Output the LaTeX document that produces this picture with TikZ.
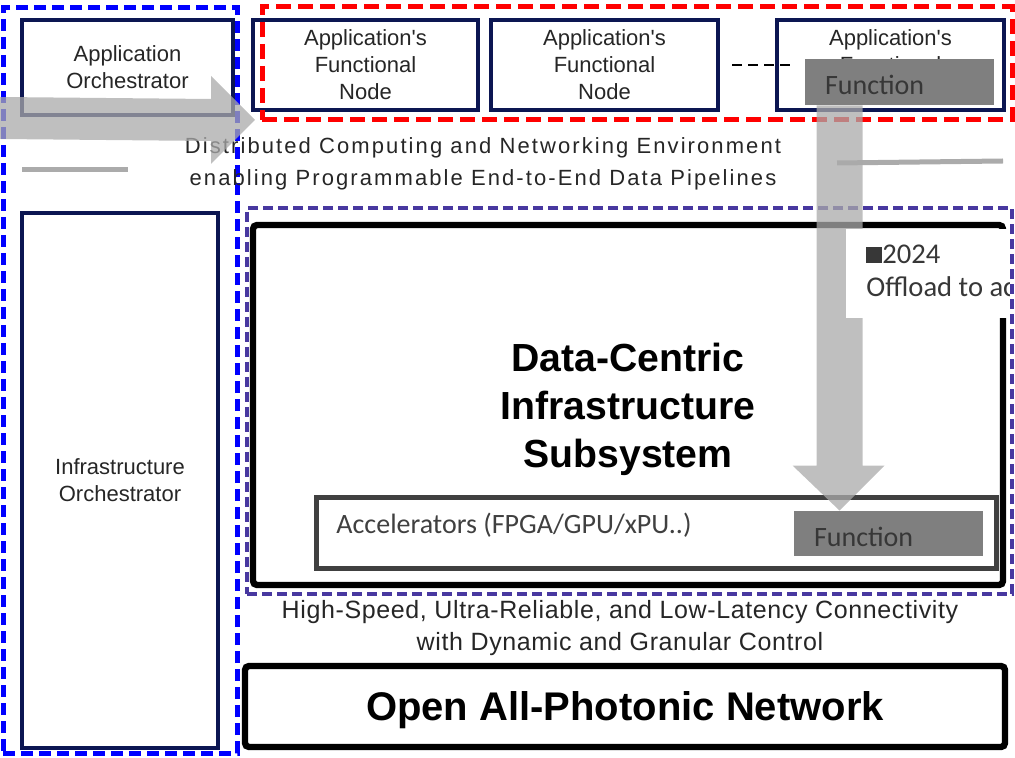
\documentclass[tikz,border=0pt]{standalone}
\usepackage{fontspec}
\setmainfont{Liberation Sans}
\newfontfamily\arialish{Liberation Sans}
\newfontfamily\gillish{Carlito}
\usetikzlibrary{positioning, fit, calc}

\definecolor{navybox}{RGB}{12,22,82}
\definecolor{orchblue}{RGB}{0,0,255}
\definecolor{appred}{RGB}{255,0,0}
\definecolor{infrapurple}{RGB}{72,56,160}
\definecolor{funcgrey}{RGB}{127,127,127}
\definecolor{functext}{RGB}{55,55,55}
\definecolor{accelgrey}{RGB}{64,64,64}
\definecolor{flowgrey}{RGB}{170,170,170}

\tikzset{
  orchbox/.style={draw=navybox, line width=2pt, fill=white, inner sep=0pt, align=center,
    text=black!85, font=\arialish\fontsize{11}{13.5}\selectfont},
  appnode/.style={orchbox, minimum width=113.5pt, minimum height=45pt},
  framebox/.style={draw, line width=2.5pt, inner sep=0pt},
  layerbox/.style={draw=black, line width=3.2pt, rounded corners=2pt, inner sep=0pt},
  funcbox/.style={fill=funcgrey, inner sep=0pt, text=functext, font=\gillish\fontsize{14}{16}\selectfont},
  flowarrow/.style={fill=flowgrey, fill opacity=0.75},
  fadeline/.style={draw=black!33, line width=2.5pt},
  midtext/.style={align=center, inner sep=0pt, text=black!85}
}

\begin{document}
\begin{tikzpicture}[x=0.5pt, y=-0.5pt]
  \useasboundingbox (0,0) rectangle (1015,758);
  \clip (0,0) rectangle (1015,758);

  % orchestrators
  \node[orchbox, minimum width=105.5pt, minimum height=47.5pt] (apporch) at (127.5,67.5) {Application\\Orchestrator};
  \node[orchbox, minimum width=98pt, minimum height=267.5pt] (infraorch) at (120,480.5) {Infrastructure\\Orchestrator};
  \node[framebox, draw=orchblue, dash pattern=on 6pt off 3pt, fit={(3,8)(237,753)}] (orchgroup) {};

  % application's functional nodes
  \node[appnode, minimum width=112.5pt] (fn1) at (365.5,65) {Application's\\Functional\\Node};
  \node[appnode, right=4.5pt of fn1] (fn2) {Application's\\Functional\\Node};
  \node[appnode, right=27.5pt of fn2] (fn3) {Application's\\Functional\\Node};
  \draw[line width=1pt, dash pattern=on 5pt off 3pt] ([xshift=6pt]fn2.east) -- ([xshift=7.5pt]fn3.west);
  \node[framebox, draw=appred, dash pattern=on 7.5pt off 3.5pt, fit={(262,7)(1012,120)}] (appgroup) {};

  \node[midtext, font=\fontsize{11}{16}\selectfont\addfontfeatures{LetterSpace=9.5}] (envtext) at (483,164)
    {Distributed Computing and Networking Environment\\enabling Programmable End-to-End Data Pipelines};
  \draw[fadeline] (22,170) -- (128,170);
  \draw[fadeline] (837,163) -- (1003,161);

  % infrastructure layers
  \node[layerbox, fit={(253,225)(1003,585)}] (dcis) {};
  \node[midtext, text=black, font=\bfseries\fontsize{19.6}{24}\selectfont] (dcistext) at (628,409)
    {Data-Centric\\Infrastructure\\Subsystem};
  \node[draw=accelgrey, line width=2.5pt, inner sep=0pt, fit={(316,497)(996,568)}] (accel) {};
  \node[anchor=west, inner sep=0pt, text=accelgrey, font=\gillish\fontsize{14}{16}\selectfont] (acceltext) at (336,525)
    {Accelerators (FPGA/GPU/xPU..)};
  \node[framebox, draw=infrapurple, line width=2pt, dash pattern=on 5pt off 2.5pt, fit={(247,208)(1012,594)}] (infragroup) {};

  \node[midtext, font=\fontsize{12.5}{16}\selectfont\addfontfeatures{LetterSpace=2.5}] (linktext) at (620,628)
    {High-Speed, Ultra-Reliable, and Low-Latency Connectivity\\with Dynamic and Granular Control};
  \node[layerbox, minimum width=380pt, minimum height=40.5pt, text depth=0pt,
    font=\bfseries\fontsize{20}{24}\selectfont] (photonic) at (625,706.5) {Open All-Photonic Network};

  % offloaded function
  \node[funcbox, fit={(794,511)(983,556)}] (fnbot) {};
  \node[funcbox, anchor=west] (fnbottext) at ([xshift=10pt,yshift=-1.5pt]fnbot.west) {Function};
  \node[funcbox, fit={(805,59)(994,105)}] (fntop) {};
  \node[funcbox, anchor=west] (fntoptext) at ([xshift=10pt,yshift=-1.5pt]fntop.west) {Function};

  % grey flow arrows
  \coordinate (htip) at ($(fn1.south west)+(4,8)$);
  \fill[flowarrow] (0,97) -- ($(htip)+(-44,-21)$) -- ($(htip)+(-44,-44)$) -- (htip)
    -- ($(htip)+(-44,44)$) -- ($(htip)+(-44,21)$) -- (0,139) -- cycle;
  \coordinate (vtip) at ($(fnbot.north west)+(46,0)$);
  \coordinate (vtop) at (vtip |- fntop.south);
  \fill[flowarrow] ($(vtop)+(-23,0)$) -- ($(vtip)+(-23,-45)$) -- ($(vtip)+(-47,-45)$) -- (vtip)
    -- ($(vtip)+(45,-45)$) -- ($(vtip)+(23,-45)$) -- ($(vtop)+(23,0)$) -- cycle;

  % note
  \node[fill=white, inner sep=0pt, fit={(846,229)(1009,318)}] (notebox) {};
  \begin{scope}
    \clip (notebox.south west) rectangle (notebox.north east);
    \node[anchor=north west, inner sep=0pt, align=left, text=functext,
      font=\gillish\fontsize{14.3}{16.5}\selectfont] (notetext) at (866,245)
      {\scalebox{0.8}{\raisebox{0.5pt}{\rule{10pt}{10pt}}}2024\\Offload to ac};
  \end{scope}
\end{tikzpicture}
\end{document}
